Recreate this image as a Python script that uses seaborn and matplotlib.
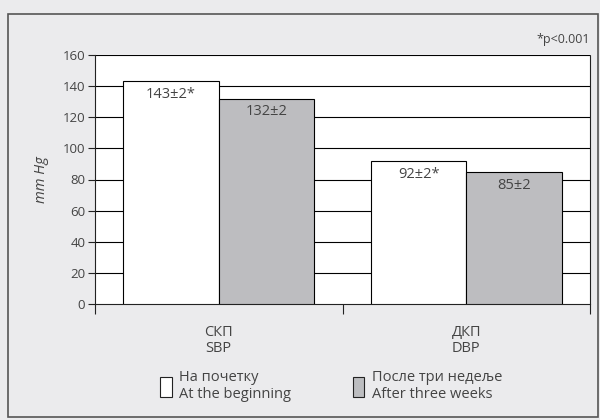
import matplotlib
matplotlib.use("Agg")
import matplotlib.pyplot as plt
import seaborn as sns
import pandas as pd
from matplotlib.patches import Rectangle, Patch
from matplotlib.ticker import FixedLocator

categories = ["СКП\nSBP", "ДКП\nDBP"]
series_names = ["На почетку\nAt the beginning", "После три недеље\nAfter three weeks"]
beginning = [143, 92]
after = [132, 85]
labels_beginning = ["143±2*", "92±2*"]
labels_after = ["132±2", "85±2"]
yticks = [0, 20, 40, 60, 80, 100, 120, 140, 160]

sns.set_theme(style="white")
plt.rcParams["font.family"] = ["Open Sans", "DejaVu Sans"]
TXT = "#444444"
BG = "#ebebed"
GRAY = "#bcbdc0"

df = pd.DataFrame({
    "cat": categories * 2,
    "series": [series_names[0]] * 2 + [series_names[1]] * 2,
    "value": beginning + after,
})

fig = plt.figure(figsize=(6, 4.2), dpi=100, facecolor=BG)
ax = fig.add_axes([95 / 600, 1 - 304 / 420, 495 / 600, 249 / 420])
ax.set_facecolor("white")

sns.barplot(data=df, x="cat", y="value", hue="series", order=categories,
            hue_order=series_names, palette=["white", GRAY], width=0.77,
            edgecolor="black", linewidth=0.8, ax=ax, legend=False, zorder=3)

ax.set_ylim(0, 160)
ax.set_xlim(-0.5, 1.5)
ax.set_yticks(yticks)
for y in yticks[1:]:
    ax.axhline(y, color="black", lw=0.8, zorder=1)

# labels inside bars
for cont, labs in zip(ax.containers, [labels_beginning, labels_after]):
    ax.bar_label(cont, labels=labs, label_type="edge", padding=-15,
                 fontsize=10.5, color=TXT)

for s in ["top", "right"]:
    ax.spines[s].set_visible(False)
ax.spines["left"].set_color("#222222")
ax.spines["bottom"].set_color("#222222")
ax.spines["left"].set_linewidth(0.8)
ax.spines["bottom"].set_linewidth(0.8)
ax.plot([1.5, 1.5], [0, 160], color="#222222", lw=0.8, zorder=2, clip_on=False)

ax.tick_params(axis="y", which="major", left=True, length=5, width=0.8,
               color="#222222", labelsize=9.5, labelcolor=TXT, pad=2)
ax.xaxis.set_minor_locator(FixedLocator([-0.5, 0.5, 1.5]))
ax.tick_params(axis="x", which="minor", bottom=True, length=7, width=0.8, color="#222222")
ax.tick_params(axis="x", which="major", bottom=False, labelsize=10.5,
               labelcolor=TXT, pad=9)
for lab in ax.get_xticklabels():
    lab.set_linespacing(1.15)

ax.set_xlabel("")
ax.set_ylabel("mm Hg", fontsize=10.5, style="italic", color=TXT, labelpad=10)

fig.text(590 / 600, 1 - 40 / 420, "*p<0.001", ha="right", va="center",
         fontsize=9, color=TXT)

handles = [Patch(facecolor="white", edgecolor="#222222", lw=0.8),
           Patch(facecolor=GRAY, edgecolor="#222222", lw=0.8)]
leg = fig.legend(handles, series_names, loc="center left", ncol=2,
                 bbox_to_anchor=(160 / 600, 1 - 386 / 420), frameon=False,
                 borderpad=0, borderaxespad=0,
                 handlelength=0.82, handleheight=1.75, handletextpad=0.5,
                 columnspacing=4.2, fontsize=10.5, labelcolor=TXT)
for t in leg.get_texts():
    t.set_linespacing(1.15)

fig.patches.append(Rectangle((8 / 600, 1 - 417 / 420), 590 / 600, 403 / 420,
                             transform=fig.transFigure, fill=False,
                             edgecolor="#555555", lw=1.2))

fig.savefig("out.png", dpi=100, facecolor=BG)
